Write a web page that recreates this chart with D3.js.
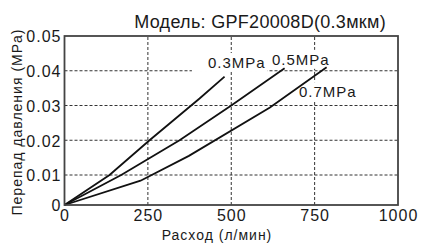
<!DOCTYPE html>
<html lang="ru">
<head>
<meta charset="UTF-8">
<title>GPF20008D</title>
<script src="https://d3js.org/d3.v7.min.js"></script>
<style>
  body { margin: 0; background: #fff; }
  text { font-family: "Liberation Sans", Arial, sans-serif; fill: #1a1a1a; }
</style>
</head>
<body>
<script>
// data (flow l/min, pressure drop MPa)
var curve03 = [[0, 0], [135, 0.01], [255, 0.02], [405, 0.032], [480, 0.0383]];
var curve05 = [[0, 0], [170, 0.01], [345, 0.02], [500, 0.03], [660, 0.0407]];
var curve07 = [[0, 0], [228, 0.0081], [373, 0.0155], [616, 0.0294], [786, 0.041]];
var curveNames = ["0.3MPa", "0.5MPa", "0.7MPa"];
var labelFlow = [430, 622, 703];
var labelDp = [0.0408, 0.0417, 0.0324];
var xTicks = [0, 250, 500, 750, 1000];
var yTicks = [0, 0.01, 0.02, 0.03, 0.04, 0.05];

var w = 422, h = 244;
var svg = d3.select("body").append("svg").attr("width", w).attr("height", h);

// scanned original has a slightly squeezed first band, so two pieces
var x = d3.scaleLinear().domain([0, 1000]).range([64.5, 398]);
var y = d3.scaleLinear().domain([0, 0.01, 0.05]).range([205, 175, 36]);

// grid
svg.append("g").selectAll("line")
  .data(xTicks.slice(1, -1)).enter().append("line")
  .attr("x1", d => x(d)).attr("x2", d => x(d))
  .attr("y1", y(0)).attr("y2", y(0.05))
  .attr("stroke", "#333").attr("stroke-width", 1).attr("stroke-dasharray", "3,2");
svg.append("g").selectAll("line")
  .data(yTicks.slice(1, -1)).enter().append("line")
  .attr("x1", x(0)).attr("x2", x(1000))
  .attr("y1", d => y(d)).attr("y2", d => y(d))
  .attr("stroke", "#333").attr("stroke-width", 1).attr("stroke-dasharray", "3,2");

// label backgrounds + labels
var labels = svg.append("g").selectAll("g")
  .data(curveNames).enter().append("g");
labels.append("text")
  .attr("x", (d, i) => x(labelFlow[i]))
  .attr("y", (d, i) => y(labelDp[i]))
  .attr("font-size", "15px").attr("letter-spacing", "1px")
  .text(d => d);
labels.each(function (d, i) {
  var g = d3.select(this);
  var b = g.select("text").node().getBBox();
  var padL = i === 0 ? 16 : 2;   // first label blanks a longer stretch of grid
  g.insert("rect", "text")
    .attr("x", b.x - padL).attr("y", b.y - 1)
    .attr("width", b.width + padL + 2).attr("height", b.height + 2)
    .attr("fill", "#fff");
});

// curves
var line = d3.line().x(d => x(d[0])).y(d => y(d[1]));
svg.append("g").selectAll("path")
  .data([curve03, curve05, curve07]).enter().append("path")
  .attr("d", line)
  .attr("fill", "none").attr("stroke", "#111").attr("stroke-width", 1.8);
labels.select("text").raise();

// frame
svg.append("rect")
  .attr("x", x(0)).attr("y", y(0.05))
  .attr("width", x(1000) - x(0)).attr("height", y(0) - y(0.05))
  .attr("fill", "none").attr("stroke", "#444").attr("stroke-width", 1.8);

// axes
var xAxis = d3.axisBottom(x).tickValues(xTicks).tickSize(0).tickPadding(5)
  .tickFormat(d3.format("d"));
var yAxis = d3.axisLeft(y).tickValues(yTicks).tickSize(0).tickPadding(3)
  .tickFormat(d => d === 0 ? "0" : d.toFixed(2));

var gx = svg.append("g").attr("transform", "translate(0," + y(0) + ")").call(xAxis);
var gy = svg.append("g").attr("transform", "translate(" + x(0) + ",0)").call(yAxis);
[gx, gy].forEach(function (g) {
  g.select(".domain").remove();
  g.selectAll("text")
    .attr("font-family", "Liberation Sans, Arial, sans-serif")
    .attr("font-size", "16px").attr("letter-spacing", "1px").attr("fill", "#1a1a1a");
});
gy.selectAll(".tick text").attr("dy", "0.36em");

// titles
svg.append("text")
  .attr("x", 386).attr("y", 28).attr("text-anchor", "end")
  .attr("font-size", "18px").attr("letter-spacing", "0.3px")
  .text("Модель: GPF20008D(0.3мкм)");

svg.append("text")
  .attr("x", 217).attr("y", 240).attr("text-anchor", "middle")
  .attr("font-size", "14px").attr("letter-spacing", "1px")
  .text("Расход (л/мин)");

svg.append("text")
  .attr("transform", "translate(22,122) rotate(-90)")
  .attr("text-anchor", "middle")
  .attr("font-size", "14px").attr("letter-spacing", "1px")
  .text("Перепад давления (MPa)");
</script>
</body>
</html>
